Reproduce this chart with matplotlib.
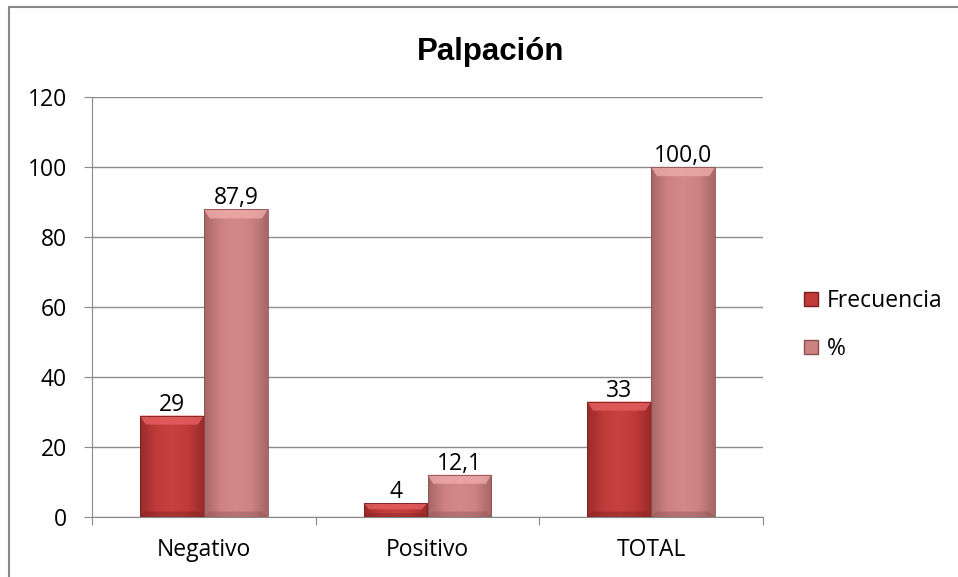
import numpy as np
import matplotlib
matplotlib.use("Agg")
import matplotlib.pyplot as plt
from matplotlib.patches import Rectangle, Polygon
from matplotlib.colors import LinearSegmentedColormap

categories = ["Negativo", "Positivo", "TOTAL"]
frecuencia = [29, 4, 33]
porcentaje = [87.9, 12.1, 100.0]
freq_labels = ["29", "4", "33"]
pct_labels = ["87,9", "12,1", "100,0"]
yticks = [0, 20, 40, 60, 80, 100, 120]

plt.rcParams['font.family'] = ['Open Sans', 'DejaVu Sans']
FS = 16.5

fig = plt.figure(figsize=(9.58, 5.77), dpi=100)
ax = fig.add_axes([92/958, 1 - 517/577, (763-92)/958, (517-97)/577])

x = np.arange(len(categories))
w = 0.286
red_cmap = LinearSegmentedColormap.from_list("r", ["#9a2a2a", "#c03a3a", "#c64242", "#c03a3a", "#9a2a2a"])
pink_cmap = LinearSegmentedColormap.from_list("p", ["#a86666", "#cd8282", "#d38989", "#cd8282", "#a86666"])

def gradient_bars(bars, cmap, topcol, botcol):
    for b in bars:
        bx, by = b.get_x(), b.get_y()
        bw, bh = b.get_width(), b.get_height()
        grad = np.linspace(0, 1, 64).reshape(1, -1)
        im = ax.imshow(grad, cmap=cmap, aspect='auto',
                       extent=[bx, bx + bw, by, by + bh], zorder=2)
        im.set_clip_path(b)
        bev = min(2.6, bh * 0.45)
        inset = bw * 0.09
        top = Polygon([(bx, by + bh), (bx + bw, by + bh),
                       (bx + bw - inset, by + bh - bev), (bx + inset, by + bh - bev)],
                      closed=True, facecolor=topcol, edgecolor='none', zorder=3, alpha=0.8)
        ax.add_patch(top)
        bot = Polygon([(bx, by), (bx + bw, by),
                       (bx + bw - inset, by + bev * 0.6), (bx + inset, by + bev * 0.6)],
                      closed=True, facecolor=botcol, edgecolor='none', zorder=3, alpha=0.4)
        ax.add_patch(bot)
        b.set_facecolor('none')

b1 = ax.bar(x - w/2, frecuencia, w, edgecolor='#7a1e1e', linewidth=0.6, zorder=4)
b2 = ax.bar(x + w/2, porcentaje, w, edgecolor='#8a5050', linewidth=0.6, zorder=4)
gradient_bars(b1, red_cmap, '#e66060', '#7a1e1e')
gradient_bars(b2, pink_cmap, '#eeaaaa', '#8a5050')

for xi, v, t in zip(x - w/2, frecuencia, freq_labels):
    ax.text(xi, v - 0.3, t, ha='center', va='bottom', fontsize=FS, zorder=5)
for xi, v, t in zip(x + w/2, porcentaje, pct_labels):
    ax.text(xi, v - 0.3, t, ha='center', va='bottom', fontsize=FS, zorder=5)

ax.set_xlim(-0.5, 2.5)
ax.set_ylim(0, 120)
ax.set_yticks(yticks)
ax.set_yticklabels([str(t) for t in yticks], fontsize=FS)
ax.set_xticks([-0.5, 0.5, 1.5, 2.5], minor=False)
ax.set_xticklabels([])
ax.set_xticks(x, minor=True)
ax.set_xticklabels(categories, minor=True, fontsize=FS)
ax.tick_params(axis='x', which='minor', length=0, pad=15)
ax.tick_params(axis='x', which='major', length=6, color='#888888', direction='out')
ax.tick_params(axis='y', length=6, color='#888888', direction='out', pad=12)
ax.yaxis.grid(True, color='#8c8c8c', linewidth=1.0, zorder=0)
ax.set_axisbelow(True)
for s in ['top', 'right']:
    ax.spines[s].set_visible(False)
ax.spines['left'].set_color('#888888')
ax.spines['bottom'].set_color('#888888')

fig.text(491/958, 1 - 52/577, "Palpación", ha='center', va='center',
         fontsize=22.5, fontweight='bold', family=['Liberation Sans', 'DejaVu Sans'])

handles = [Rectangle((0, 0), 1, 1, facecolor='#c03a3a', edgecolor='#7a1e1e'),
           Rectangle((0, 0), 1, 1, facecolor='#cd8282', edgecolor='#8a5050')]
fig.legend(handles, ["Frecuencia", "%"], loc='center left',
           bbox_to_anchor=(804/958, 1 - 325/577), frameon=False, fontsize=FS,
           handlelength=0.6, handleheight=0.6, handletextpad=0.4, labelspacing=1.05,
           borderaxespad=0, borderpad=0)

border = Rectangle((9/958, -0.05), 1.2, 1 - 7/577 + 0.05, transform=fig.transFigure,
                   fill=False, edgecolor='#888888', linewidth=1.5)
fig.patches.append(border)

fig.savefig("out.png", dpi=100)
